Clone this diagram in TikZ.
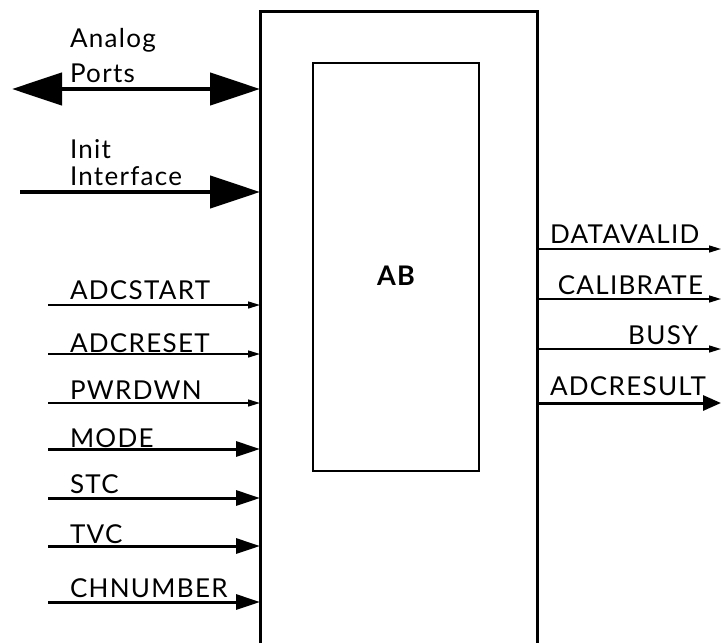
\documentclass[tikz,border=0pt]{standalone}
\usepackage{fontspec}
\setmainfont{Lato}[LetterSpace=5]
\usetikzlibrary{arrows.meta}
\begin{document}
\begin{tikzpicture}[x=1pt,y=-1pt,
  lbl/.style={font=\fontsize{26}{31}\selectfont, inner sep=0pt, outer sep=0pt},
  sigthin/.style={line width=1.5pt, -{Triangle[length=12pt,width=7pt]}},
  sigthick/.style={line width=3pt, -{Triangle[length=24pt,width=15pt]}},
  busarrow/.style={line width=4.5pt, -{Triangle[length=50pt,width=32pt]}},
]
\useasboundingbox (0,0) rectangle (722,643);
% outer block (open at bottom)
\node[minimum width=277pt, minimum height=632pt, inner sep=0pt, outer sep=0pt] (outer) at (398.5,327) {};
\draw[line width=3pt] (outer.south west) -- (outer.north west) -- (outer.north east) -- (outer.south east);
% inner block
\node[draw, line width=2pt, minimum width=166pt, minimum height=408pt, inner sep=0pt] (core) at (396,267) {};
\node[lbl, font=\fontsize{27}{32}\selectfont\bfseries] (ab) at (396,276) {AB};

% left-side free ends
\coordinate (aP) at (12,89);
\coordinate (iI) at (20,192);
\coordinate (s1) at (48,305);
\coordinate (s2) at (48,354);
\coordinate (s3) at (48,403);
\coordinate (s4) at (48,449);
\coordinate (s5) at (48,498);
\coordinate (s6) at (48,546);
\coordinate (s7) at (48,602);
% right-side free ends
\coordinate (o1) at (721,249);
\coordinate (o2) at (721,299);
\coordinate (o3) at (721,349);
\coordinate (o4) at (721,403);

% connectors
\draw[busarrow, {Triangle[length=50pt,width=32pt]}-{Triangle[length=50pt,width=32pt]}] (aP) -- (aP -| outer.west);
\draw[busarrow] (iI) -- (iI -| outer.west);
\draw[sigthin] (s1) -- (s1 -| outer.west);
\draw[sigthin] (s2) -- (s2 -| outer.west);
\draw[sigthin] (s3) -- (s3 -| outer.west);
\draw[sigthick] (s4) -- (s4 -| outer.west);
\draw[sigthick] (s5) -- (s5 -| outer.west);
\draw[sigthick] (s6) -- (s6 -| outer.west);
\draw[sigthick] (s7) -- (s7 -| outer.west);
\draw[sigthin] (o1 -| outer.east) -- (o1);
\draw[sigthin] (o2 -| outer.east) -- (o2);
\draw[sigthin] (o3 -| outer.east) -- (o3);
\draw[sigthick, -{Triangle[length=18pt,width=15pt]}] (o4 -| outer.east) -- (o4);

% labels left
\node[lbl, anchor=base west] (tAnalog) at (70,47) {Analog};
\node[lbl, anchor=base west] (tPorts) at (70,82) {Ports};
\node[lbl, anchor=base west] (tInit) at (70,158) {Init};
\node[lbl, anchor=base west] (tIface) at (70,185) {Interface};
\node[lbl, anchor=base west] (t1) at (70,299) {ADCSTART};
\node[lbl, anchor=base west] (t2) at (70,352) {ADCRESET};
\node[lbl, anchor=base west] (t3) at (70,399) {PWRDWN};
\node[lbl, anchor=base west] (t4) at (70,447) {MODE};
\node[lbl, anchor=base west] (t5) at (70,493) {STC};
\node[lbl, anchor=base west] (t6) at (70,543) {TVC};
\node[lbl, anchor=base west] (t7) at (70,597) {CHNUMBER};
% labels right
\node[lbl, anchor=base west] (r1) at (550,243) {DATAVALID};
\node[lbl, anchor=base east] (r2) at (703,294) {CALIBRATE};
\node[lbl, anchor=base east] (r3) at (698,344) {BUSY};
\node[lbl, anchor=base west] (r4) at (550,395) {ADCRESULT};
\end{tikzpicture}
\end{document}
